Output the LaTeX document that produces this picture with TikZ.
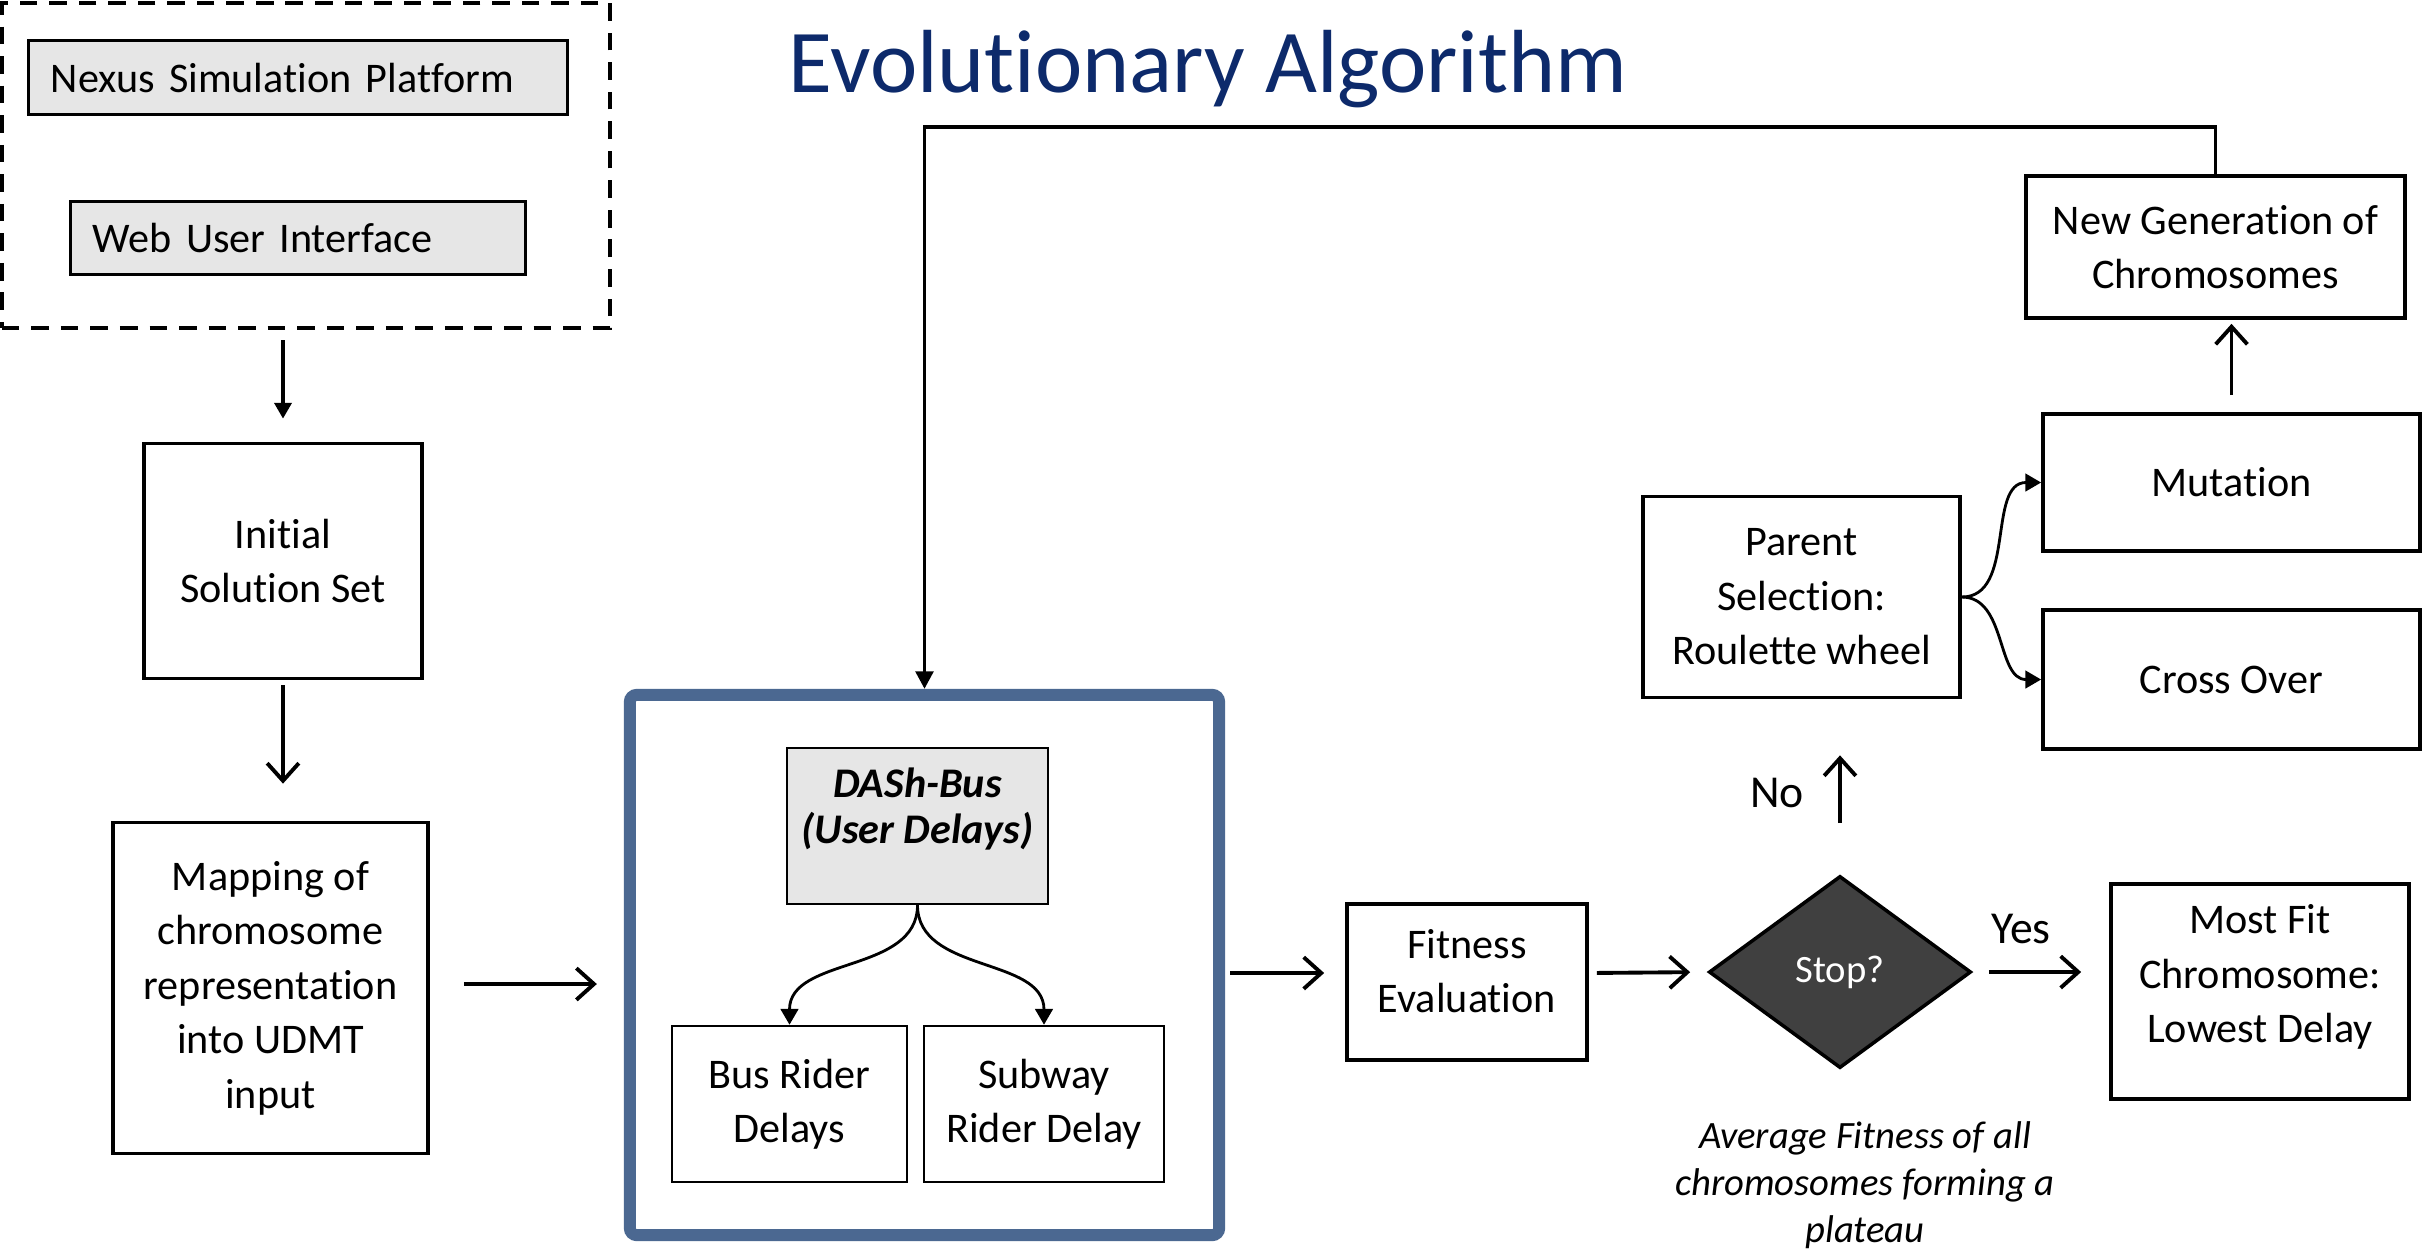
\documentclass[tikz,border=0pt]{standalone}
\usepackage{fontspec}
\setmainfont{Carlito}[Ligatures={NoCommon}]
\usetikzlibrary{arrows.meta,shapes.geometric}
\definecolor{panelgrey}{HTML}{E6E6E6}
\definecolor{framblue}{HTML}{4B6891}
\definecolor{titleblue}{HTML}{0D2A6B}
\definecolor{decisiongrey}{HTML}{404040}
\newcommand{\bodyfont}{\fontsize{12}{15.5}\selectfont}
\begin{document}
\begin{tikzpicture}[x=0.01cm,y=-0.01cm,
  procbox/.style={draw, line width=1pt, align=center, inner sep=0pt, font=\bodyfont},
  boxtext/.style={align=center, inner sep=0pt, font=\bodyfont},
  greybox/.style={draw, fill=panelgrey, line width=0.8pt, align=left, inner sep=0.22cm, font=\bodyfont},
  thinbox/.style={draw, line width=0.7pt, align=center, inner sep=0pt, font=\bodyfont},
  frame/.style={draw=framblue, line width=3.4pt, rounded corners=2pt, inner sep=0pt},
  platformbox/.style={draw, line width=1.1pt, dash pattern=on 5pt off 3.4pt, inner sep=0pt},
  decision/.style={diamond, draw, fill=decisiongrey, line width=1pt, inner sep=0pt, text=white, font=\fontsize{11}{13}\selectfont},
  barb/.style={line width=1.1pt, -{Straight Barb[length=5pt,width=9pt]}},
  solidtip/.style={line width=1.1pt, -{Triangle[length=4.5pt,width=4.8pt]}},
  curvetip/.style={line width=0.8pt, -{Triangle[length=4.5pt,width=5pt]}},
  note/.style={font=\fontsize{11}{13.4}\selectfont\itshape, align=center},
  answer/.style={font=\fontsize{13}{15}\selectfont}
]
\useasboundingbox (0,0) rectangle (2423,1250);

% title
\node[anchor=base, text=titleblue, font=\fontsize{25.5}{30}\selectfont] (title) at (1208,92) {Evolutionary Algorithm};

% input platform
\node[platformbox, minimum width=6.08cm, minimum height=3.25cm] (platform) at (306,165.5) {};
\node[greybox, text width=4.94cm, minimum height=0.71cm] (nexus) at (298,77.5) {Nexus Simulation Platform};
\node[greybox, text width=4.10cm, minimum height=0.72cm] (webui) at (298,238) {Web User Interface};

% left column
\node[procbox, minimum width=2.78cm, minimum height=2.35cm] (init) at (283,561) {Initial\\Solution Set};
\node[procbox, minimum width=3.15cm, minimum height=3.31cm] (mapping) at (270.5,988) {Mapping of\\chromosome\\representation\\into UDMT\\input};

% simulation frame
\node[frame, minimum width=5.89cm, minimum height=5.40cm] (big) at (924.5,965) {};
\node[draw, fill=panelgrey, line width=0.6pt, minimum width=2.61cm, minimum height=1.56cm] (dash) at (917.5,826) {};
\node[font=\fontsize{12}{13.2}\selectfont\bfseries\itshape, align=center] (dashlabel) at (917.5,809) {DASh-Bus\\(User Delays)};
\node[thinbox, minimum width=2.35cm, minimum height=1.56cm] (busr) at (789.5,1104) {Bus Rider\\Delays};
\node[thinbox, minimum width=2.40cm, minimum height=1.56cm] (subr) at (1044,1104) {Subway\\Rider Delay};

% evaluation and decision
\node[draw, line width=1pt, minimum width=2.40cm, minimum height=1.56cm] (fitness) at (1467,982) {};
\node[boxtext] (fitnesslabel) at (1467,971) {Fitness\\Evaluation};
\node[decision, minimum width=2.62cm, minimum height=1.92cm] (stop) at (1840,972) {Stop?};
\node[draw, line width=1pt, minimum width=2.98cm, minimum height=2.15cm] (mostfit) at (2260,991.5) {};
\node[boxtext] (mostfitlabel) at (2260,977) {Most Fit\\Chromosome:\\Lowest Delay};
\node[note] (criterion) at (1865,1185) {Average Fitness of all\\chromosomes forming a\\plateau};
\node[answer] (yes) at (2021,929) {Yes};
\node[answer] (no) at (1777,793) {No};

% genetic operators
\node[procbox, minimum width=3.17cm, minimum height=2.01cm] (parent) at (1801.5,597) {Parent\\Selection:\\Roulette wheel};
\node[procbox, minimum width=3.77cm, minimum height=1.37cm] (mutation) at (2231.5,482.5) {Mutation};
\node[procbox, minimum width=3.77cm, minimum height=1.39cm] (crossover) at (2231.5,679.5) {Cross Over};
\node[procbox, minimum width=3.79cm, minimum height=1.42cm] (newgen) at (2215.5,247) {New Generation of\\Chromosomes};

% connectors
\draw[solidtip, shorten <=0.1cm, shorten >=0.23cm] (platform.south -| init.north) -- (init.north);
\draw[barb, shorten <=0.05cm, shorten >=0.37cm] (init.south) -- (init.south |- mapping.north);
\draw[barb, shorten <=0.34cm, shorten >=0.27cm] ([yshift=0.04cm]mapping.east) -- ([yshift=0.04cm]mapping.east -| big.west);
\draw[line width=1.1pt, -{Triangle[length=5pt,width=5pt]}] (newgen.north) -- ++(0,-47) -| (big.north);
\draw[curvetip] (dash.south) to[out=-90,in=90] (busr.north);
\draw[curvetip] (dash.south) to[out=-90,in=90] (subr.north);
\draw[barb, shorten <=0.05cm, shorten >=0.21cm] ([yshift=-0.08cm]big.east) -- ([yshift=0.09cm]fitness.west);
\draw[barb, shorten <=0.08cm, shorten >=0.17cm] ([yshift=0.09cm]fitness.east) -- (stop.west);
\draw[barb, shorten <=0.16cm, shorten >=0.28cm] (stop.east) -- (stop.east -| mostfit.west);
\draw[barb, shorten <=0.51cm, shorten >=0.56cm] (stop.north) -- (stop.north |- parent.south);
\draw[curvetip] (parent.east) to[out=0,in=180] (mutation.west);
\draw[curvetip] (parent.east) to[out=0,in=180] (crossover.west);
\draw[barb, shorten <=0.17cm, shorten >=0.04cm] (mutation.north) -- (mutation.north |- newgen.south);
\end{tikzpicture}
\end{document}
